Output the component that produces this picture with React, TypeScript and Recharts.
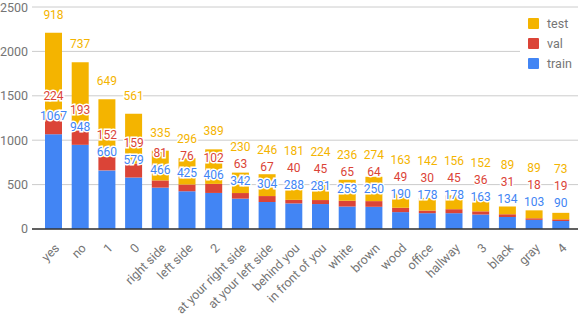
import React from "react";
import { BarChart, Bar, XAxis, YAxis, CartesianGrid, Legend, LabelList } from "recharts";

const categories = [
  "yes", "no", "1", "0", "right side", "left side", "2", "at your right side",
  "at your left side", "behind you", "in front of you", "white", "brown", "wood",
  "office", "hallway", "3", "black", "gray", "4",
];
const train = [1067, 948, 660, 579, 466, 425, 406, 342, 304, 288, 281, 253, 250, 190, 178, 178, 163, 134, 103, 90];
const val = [224, 193, 152, 159, 81, 76, 102, 63, 67, 40, 45, 65, 64, 49, 30, 45, 36, 31, 18, 19];
const test = [918, 737, 649, 561, 335, 296, 389, 230, 246, 181, 224, 236, 274, 163, 142, 156, 152, 89, 89, 73];
const yTicks = [0, 500, 1000, 1500, 2000, 2500];

const data = categories.map((name, i) => ({ name, train: train[i], val: val[i], test: test[i] }));

const BLUE = "#4285F4";
const RED = "#DB4437";
const YELLOW = "#F4B400";
const FONT = "Roboto, Arial, sans-serif";

// google-style annotations: each sits above its segment, pushed up so they don't collide
const labelCenters = (i: number, base: number, k: number) => {
  const trainTop = base - train[i] * k;
  const valTop = trainTop - val[i] * k;
  const testTop = valTop - test[i] * k;
  const t = trainTop - 18;
  const v = Math.min(valTop - 18, t - 17);
  const s = Math.min(testTop - 18, v - 17);
  return { train: t, val: v, test: s };
};

const makeLabel = (key: "train" | "val" | "test", color: string) => (props: any) => {
  const { x, y, width, height, value, index } = props;
  if (!value) return null;
  const k = height / value;
  let base = y + height;
  if (key === "val") base += train[index] * k;
  if (key === "test") base += (train[index] + val[index]) * k;
  const cy = labelCenters(index, base, k)[key];
  return (
    <text
      x={x + width / 2}
      y={cy}
      dy={4}
      textAnchor="middle"
      fill={color}
      stroke="#fff"
      strokeWidth={3}
      paintOrder="stroke"
      fontSize={12}
      fontFamily={FONT}
    >
      {value}
    </text>
  );
};

const XTick = (props: any) => {
  const { x, y, payload } = props;
  return (
    <text
      x={x + 4}
      y={y + 9}
      dy={4}
      textAnchor="end"
      transform={`rotate(-45 ${x + 4} ${y + 9})`}
      fill="#757575"
      fontSize={12.5}
      fontFamily={FONT}
    >
      {payload.value}
    </text>
  );
};

const legendItems = [
  { name: "test", color: YELLOW },
  { name: "val", color: RED },
  { name: "train", color: BLUE },
];

const LegendBox = () => (
  <div style={{ background: "#fff", padding: "5px 0 4px 8px", width: 50 }}>
    {legendItems.map((it) => (
      <div key={it.name} style={{ display: "flex", alignItems: "center", height: 20 }}>
        <span style={{ width: 11, height: 11, background: it.color, borderRadius: 1, display: "inline-block" }} />
        <span style={{ marginLeft: 8, fontFamily: FONT, fontSize: 12.5, color: "#757575" }}>{it.name}</span>
      </div>
    ))}
  </div>
);

export default function App() {
  return (
    <div style={{ position: "absolute", left: 0, top: 0 }}>
      <BarChart width={578} height={318} data={data} margin={{ top: 7, right: 0, left: 0, bottom: 0 }} barSize={17}>
        <CartesianGrid vertical={false} stroke="#cccccc" />
        <XAxis
          dataKey="name"
          interval={0}
          height={89}
          tick={<XTick />}
          tickLine={false}
          axisLine={{ stroke: "#333", strokeWidth: 1.5 }}
          padding={{ left: 8, right: 4 }}
        />
        <YAxis
          width={32}
          domain={[0, 2500]}
          ticks={yTicks}
          axisLine={false}
          tickLine={false}
          tickSize={0}
          tickMargin={4}
          tick={{ fill: "#757575", fontSize: 12.5, fontFamily: FONT }}
        />
        <Legend
          layout="vertical"
          align="center"
          verticalAlign="middle"
          content={<LegendBox />}
          wrapperStyle={{ left: 520, top: 8, width: 58 }}
        />
        <Bar dataKey="train" stackId="a" fill={BLUE} isAnimationActive={false}>
          <LabelList dataKey="train" content={makeLabel("train", BLUE)} />
        </Bar>
        <Bar dataKey="val" stackId="a" fill={RED} isAnimationActive={false}>
          <LabelList dataKey="val" content={makeLabel("val", RED)} />
        </Bar>
        <Bar dataKey="test" stackId="a" fill={YELLOW} isAnimationActive={false}>
          <LabelList dataKey="test" content={makeLabel("test", YELLOW)} />
        </Bar>
      </BarChart>
    </div>
  );
}
